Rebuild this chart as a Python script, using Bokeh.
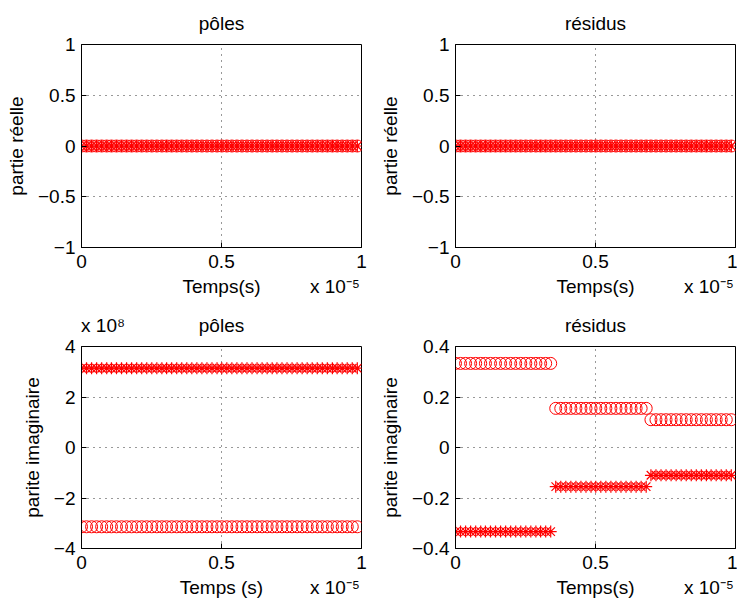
from bokeh.plotting import figure
from bokeh.layouts import gridplot
from bokeh.models import Range1d, FixedTicker, LinearAxis
from bokeh.embed import file_html
from bokeh.resources import INLINE

# time samples (units of 1e-5 s)
t = [0.000, 0.018, 0.036, 0.054, 0.072, 0.090, 0.107, 0.125, 0.143, 0.161,
     0.179, 0.197, 0.215, 0.233, 0.251, 0.269, 0.287, 0.304, 0.322, 0.340,
     0.358, 0.376, 0.394, 0.412, 0.430, 0.448, 0.466, 0.484, 0.501, 0.519,
     0.537, 0.555, 0.573, 0.591, 0.609, 0.627, 0.645, 0.663, 0.681,
     0.698, 0.716, 0.734, 0.752, 0.770, 0.788, 0.806, 0.824, 0.842, 0.860,
     0.878, 0.896, 0.913, 0.931, 0.949, 0.967, 0.985]

# real parts (poles and residues), both series at zero
poles_re_o = [0.0] * 56
poles_re_s = [0.0] * 56
res_re_o = [0.0] * 56
res_re_s = [0.0] * 56

# imaginary parts of poles (units of 1e8)
poles_im_o = [-3.14] * 56
poles_im_s = [3.14] * 56

# imaginary parts of residues
res_im_o = [0.333] * 20 + [0.155] * 19 + [0.110] * 17
res_im_s = [-0.333] * 20 + [-0.155] * 19 + [-0.110] * 17

x_ticks = [0, 0.5, 1]
re_ticks = [-1, -0.5, 0, 0.5, 1]
pim_ticks = [-4, -2, 0, 2, 4]
rim_ticks = [-0.4, -0.2, 0, 0.2, 0.4]

FONT = "Liberation Sans"
FS = "19px"
RED = "#ff0000"


def fmt(v):
    return ("%g" % v).replace("-", "\u2212")


def text_axis(ticks, labels, standoff):
    ax = LinearAxis(ticker=FixedTicker(ticks=ticks),
                    major_label_overrides=dict(zip(ticks, labels)))
    ax.axis_line_color = None
    ax.major_tick_line_color = None
    ax.minor_tick_line_color = None
    ax.major_tick_in = 0
    ax.major_tick_out = 0
    ax.major_label_standoff = standoff
    ax.major_label_text_font = FONT
    ax.major_label_text_font_size = FS
    ax.major_label_text_color = "black"
    return ax


def make(title, ylabel, xlabel, ys_o, ys_s, yticks, yr,
         bl, br, bt, bb, fw, fh, top_extra=None):
    p = figure(frame_width=fw, frame_height=fh, output_backend="svg",
               toolbar_location=None, x_range=Range1d(0, 1),
               y_range=Range1d(yr[0], yr[1]),
               min_border_left=bl, min_border_right=br,
               min_border_top=bt, min_border_bottom=bb,
               background_fill_color="white", border_fill_color="white")
    p.title.text = ""
    p.outline_line_color = "black"
    p.outline_line_width = 1
    p.outline_line_alpha = 1
    p.xaxis.ticker = FixedTicker(ticks=x_ticks)
    p.yaxis.ticker = FixedTicker(ticks=yticks)
    p.xaxis.major_label_overrides = {v: fmt(v) for v in x_ticks}
    p.yaxis.major_label_overrides = {v: fmt(v) for v in yticks}
    for ax in (p.xaxis, p.yaxis):
        ax.axis_line_color = "black"
        ax.major_tick_line_color = "black"
        ax.major_tick_in = 5
        ax.major_tick_out = 0
        ax.minor_tick_line_color = None
        ax.major_label_text_font = FONT
        ax.major_label_text_font_size = FS
        ax.major_label_text_color = "black"
        ax.axis_label_text_font = FONT
        ax.axis_label_text_font_size = FS
        ax.axis_label_text_font_style = "normal"
        ax.axis_label_text_color = "black"
    p.yaxis.axis_label = ylabel
    p.xaxis.major_label_standoff = 7
    p.yaxis.major_label_standoff = 6
    p.yaxis.axis_label_standoff = 8
    for g in (p.xgrid, p.ygrid):
        g.grid_line_color = "black"
        g.grid_line_dash = "1 5"
        g.grid_line_alpha = 0.8
        g.grid_line_width = 1
    p.scatter(t, ys_o, marker="circle", size=12, fill_color=None,
              line_color=RED, line_width=1)
    p.scatter(t, ys_s, marker="asterisk", size=12, line_color=RED,
              line_width=1.2)
    # x label and "x 10^-5" multiplier on one row below the tick labels
    p.add_layout(text_axis([0.5, 0.905], [xlabel, "x 10\u207b\u2075"], 5),
                 "below")
    # title (and optional multiplier) above the frame
    ticks = [0.5]
    labels = [title]
    if top_extra is not None:
        ticks = [top_extra[0], 0.5]
        labels = [top_extra[1], title]
    p.add_layout(text_axis(ticks, labels, 11), "above")
    return p


p1 = make("pôles", "partie réelle", "Temps(s)", poles_re_o, poles_re_s,
          re_ticks, (-1, 1), 81, 15, 44, 57, 280, 203)
p2 = make("résidus", "partie réelle", "Temps(s)", res_re_o, res_re_s,
          re_ticks, (-1, 1), 74, 2, 44, 57, 280, 203)
p3 = make("pôles", "parite imaginaire", "Temps (s)", poles_im_o, poles_im_s,
          pim_ticks, (-4, 4), 81, 15, 42, 50, 280, 202,
          top_extra=(0.077, "x 10\u2078"))
p4 = make("résidus", "parite imaginaire", "Temps(s)", res_im_o, res_im_s,
          rim_ticks, (-0.4, 0.4), 74, 2, 42, 50, 280, 202)

grid = gridplot([[p1, p2], [p3, p4]], toolbar_location=None)

open("out.html", "w").write(file_html(grid, INLINE))
